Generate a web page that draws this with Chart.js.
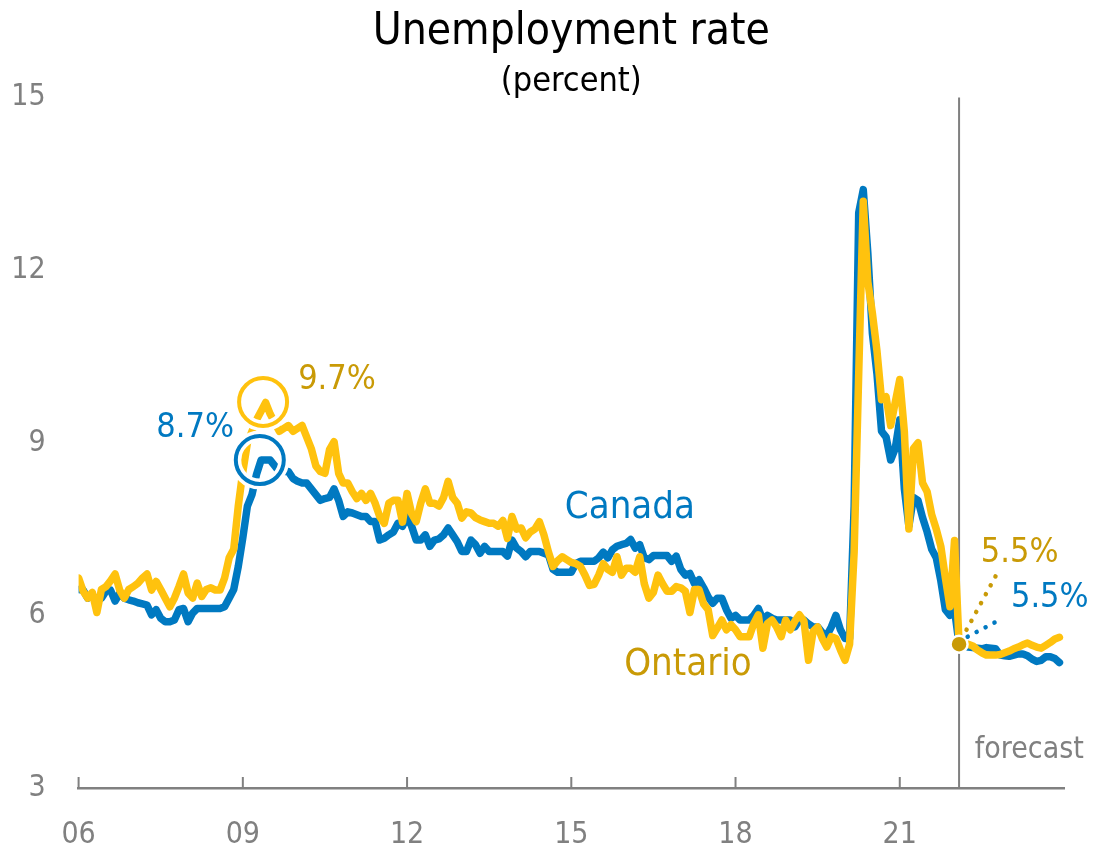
<!DOCTYPE html>
<html>
<head>
<meta charset="utf-8">
<script src="https://cdn.jsdelivr.net/npm/chart.js@4.4.1/dist/chart.umd.min.js"></script>
<style>
  html, body { margin: 0; padding: 0; background: #fff; }
</style>
</head>
<body>
<canvas id="chart" width="1094" height="848"></canvas>
<script>
// monthly data, Jan 2006 .. Feb 2022
const startYear = 2006;
const canada = [
  6.45, 6.44, 6.3, 6.35, 6.27, 6.3, 6.42, 6.44, 6.25, 6.38, 6.3, 6.27,
  6.25, 6.22, 6.2, 6.18, 6.01, 6.1, 5.95, 5.89, 5.89, 5.92, 6.1, 6.12,
  5.89, 6.04, 6.12, 6.12, 6.12, 6.12, 6.12, 6.12, 6.15, 6.3, 6.45, 6.85,
  7.35, 7.9, 8.1, 8.45, 8.7, 8.7, 8.7, 8.6, 8.5, 8.5, 8.5, 8.38,
  8.33, 8.3, 8.3, 8.2, 8.1, 8.0, 8.03, 8.05, 8.2, 8.0, 7.72, 7.8,
  7.78, 7.75, 7.72, 7.72, 7.63, 7.63, 7.31, 7.34, 7.4, 7.45, 7.6, 7.55,
  7.72, 7.55, 7.31, 7.31, 7.4, 7.2, 7.31, 7.33, 7.4, 7.52, 7.4, 7.28,
  7.11, 7.11, 7.31, 7.23, 7.08, 7.2, 7.11, 7.11, 7.11, 7.11, 7.03, 7.31,
  7.17, 7.11, 7.02, 7.11, 7.11, 7.11, 7.08, 7.05, 6.8, 6.75, 6.75, 6.75,
  6.75, 6.9, 6.94, 6.94, 6.94, 6.94, 7.0, 7.1, 7.0, 7.14, 7.2, 7.23,
  7.25, 7.32, 7.17, 7.23, 7.0, 6.97, 7.04, 7.04, 7.04, 7.04, 6.94, 7.03,
  6.8, 6.7, 6.73, 6.55, 6.62, 6.48, 6.32, 6.21, 6.3, 6.3, 6.1, 5.95,
  6.0, 5.92, 5.92, 5.92, 6.0, 6.12, 5.92, 6.0, 5.95, 5.92, 5.92, 5.92,
  5.92, 5.8, 5.92, 5.92, 5.85, 5.8, 5.8, 5.7, 5.65, 5.8, 6.0, 5.75,
  5.6, 5.6, 7.9, 13.0, 13.4, 12.3, 10.9, 10.2, 9.2, 9.1, 8.7, 8.9,
  9.4, 8.2, 7.55, 8.05, 8.0, 7.7, 7.45, 7.15, 7.0, 6.6, 6.1, 6.0,
  6.1, 5.5
];
const ontario = [
  6.65, 6.42, 6.3, 6.4, 6.05, 6.45, 6.5, 6.6, 6.72, 6.44, 6.3, 6.45,
  6.5, 6.56, 6.65, 6.72, 6.44, 6.59, 6.45, 6.3, 6.15, 6.3, 6.5, 6.72,
  6.39, 6.3, 6.56, 6.33, 6.45, 6.48, 6.44, 6.44, 6.65, 7.0, 7.15, 7.9,
  8.5, 9.0, 9.2, 9.4, 9.55, 9.7, 9.5, 9.35, 9.2, 9.25, 9.3, 9.2,
  9.25, 9.3, 9.1, 8.9, 8.6, 8.5, 8.47, 8.88, 9.02, 8.47, 8.3, 8.3,
  8.15, 8.03, 8.12, 8.0, 8.12, 7.95, 7.72, 7.6, 7.95, 8.0, 8.0, 7.62,
  8.12, 7.77, 7.63, 7.95, 8.2, 7.95, 7.95, 7.9, 8.05, 8.33, 8.05, 7.95,
  7.69, 7.8, 7.78, 7.7, 7.66, 7.63, 7.6, 7.6, 7.55, 7.65, 7.34, 7.72,
  7.5, 7.52, 7.35, 7.45, 7.5, 7.63, 7.4, 7.1, 6.85, 6.95, 7.02, 6.97,
  6.92, 6.9, 6.85, 6.7, 6.52, 6.54, 6.7, 6.9, 6.8, 6.75, 7.02, 6.7,
  6.82, 6.82, 6.75, 7.02, 6.55, 6.3, 6.4, 6.7, 6.55, 6.42, 6.42, 6.5,
  6.48, 6.42, 6.05, 6.45, 6.45, 6.2, 6.1, 5.65, 5.78, 5.92, 5.75, 5.84,
  5.75, 5.63, 5.63, 5.63, 5.86, 6.01, 5.43, 5.86, 5.92, 5.8, 5.63, 5.92,
  5.75, 5.9, 6.01, 5.9, 5.22, 5.72, 5.8, 5.6, 5.45, 5.63, 5.6, 5.4,
  5.22, 5.5, 7.1, 10.2, 13.2, 11.8, 11.25, 10.6, 9.75, 9.8, 9.3, 9.7,
  10.1, 9.2, 7.5, 8.9, 9.0, 8.3, 8.15, 7.75, 7.5, 7.2, 6.65, 6.15,
  7.3, 5.5
];
// forecast, Feb 2022 .. Dec 2023
const forecastFirstMonth = 193;
const canadaForecast = [
  5.5, 5.47, 5.45, 5.44, 5.43, 5.42, 5.44, 5.43, 5.42, 5.31, 5.3, 5.29,
  5.31, 5.33, 5.33, 5.3, 5.24, 5.2, 5.22, 5.28, 5.28, 5.25, 5.18
];
const ontarioForecast = [
  5.5, 5.5, 5.5, 5.47, 5.4, 5.35, 5.31, 5.31, 5.31, 5.32, 5.35, 5.38,
  5.42, 5.45, 5.49, 5.52, 5.48, 5.45, 5.43, 5.48, 5.53, 5.59, 5.62
];
const lastActual = 5.5;
const tickYears = [2006, 2009, 2012, 2015, 2018, 2021];

const BLUE = '#0079c1';
const YELLOW = '#ffc20e';
const GOLD = '#c99a06';
const GREY = '#808080';
const FONT = '"Liberation Sans Narrow", "DejaVu Sans Condensed", "Noto Sans", sans-serif';

const toPoints = (vals, first) => vals.map((v, i) => ({ x: startYear + (first + i) / 12, y: v }));
const forecastStart = startYear + forecastFirstMonth / 12;

const decor = {
  id: 'decor',
  beforeDatasetsDraw(chart) {
    const { ctx, chartArea, scales: { x } } = chart;
    ctx.save();
    ctx.strokeStyle = GREY;
    ctx.lineWidth = 2;
    ctx.beginPath();
    const fx = x.getPixelForValue(forecastStart);
    ctx.moveTo(fx, chartArea.top);
    ctx.lineTo(fx, chartArea.bottom);
    tickYears.forEach(yr => {
      const px = x.getPixelForValue(yr);
      ctx.moveTo(px, chartArea.bottom);
      ctx.lineTo(px, chartArea.bottom - 11);
    });
    ctx.stroke();
    ctx.restore();
  },
  afterDatasetsDraw(chart) {
    const { ctx, scales: { x, y } } = chart;
    ctx.save();
    // circles around the 2009 peaks
    [[2009.31, 8.70, BLUE], [2009.37, 9.71, YELLOW]].forEach(([cx, cy, col]) => {
      const px = x.getPixelForValue(cx), py = y.getPixelForValue(cy);
      ctx.beginPath();
      ctx.arc(px, py, 24, 0, Math.PI * 2);
      ctx.strokeStyle = '#fff';
      ctx.lineWidth = 11;
      ctx.stroke();
      ctx.strokeStyle = col;
      ctx.lineWidth = 4;
      ctx.stroke();
    });
    // dotted leaders to the forecast labels
    ctx.lineCap = 'round';
    ctx.lineWidth = 4.5;
    ctx.setLineDash([0.1, 10]);
    [[2022.22, 5.75, 2022.75, 6.68, GOLD], [2022.24, 5.63, 2022.88, 5.95, BLUE]].forEach(([x0, y0, x1, y1, col]) => {
      ctx.strokeStyle = col;
      ctx.beginPath();
      ctx.moveTo(x.getPixelForValue(x0), y.getPixelForValue(y0));
      ctx.lineTo(x.getPixelForValue(x1), y.getPixelForValue(y1));
      ctx.stroke();
    });
    ctx.setLineDash([]);
    // labels
    ctx.textBaseline = 'middle';
    [
      ['8.7%', 2008.13, 9.26, BLUE, 34, 'center'],
      ['9.7%', 2010.72, 10.08, GOLD, 34, 'center'],
      ['Canada', 2016.07, 7.87, BLUE, 38, 'center'],
      ['Ontario', 2017.13, 5.14, GOLD, 38, 'center'],
      ['5.5%', 2023.19, 7.09, GOLD, 34, 'center'],
      ['5.5%', 2023.74, 6.30, BLUE, 34, 'center'],
      ['forecast', 2022.37, 3.65, GREY, 30, 'left']
    ].forEach(([t, tx, ty, col, size, align]) => {
      ctx.font = size + 'px ' + FONT;
      ctx.fillStyle = col;
      ctx.textAlign = align;
      ctx.fillText(t, x.getPixelForValue(tx), y.getPixelForValue(ty));
    });
    ctx.restore();
  }
};

const line = (label, data, color) => ({
  label, data,
  borderColor: color,
  borderWidth: 7.5,
  pointRadius: 0,
  tension: 0,
  borderJoinStyle: 'round',
  borderCapStyle: 'round',
  fill: false
});

new Chart(document.getElementById('chart'), {
  type: 'line',
  data: {
    datasets: [
      {
        label: 'last actual',
        data: [{ x: forecastStart, y: lastActual }],
        showLine: false,
        pointRadius: 8.5,
        pointBackgroundColor: GOLD,
        pointBorderColor: '#fff',
        pointBorderWidth: 2.5
      },
      line('Ontario', toPoints(ontario, 0), YELLOW),
      line('Ontario forecast', toPoints(ontarioForecast, forecastFirstMonth), YELLOW),
      line('Canada', toPoints(canada, 0), BLUE),
      line('Canada forecast', toPoints(canadaForecast, forecastFirstMonth), BLUE)
    ]
  },
  options: {
    responsive: false,
    animation: false,
    layout: { padding: { right: 30, left: 0, bottom: 0 } },
    plugins: {
      legend: { display: false },
      tooltip: { enabled: false },
      title: {
        display: true,
        fullSize: false,
        text: 'Unemployment rate',
        color: '#000',
        font: { family: FONT, size: 44, weight: 'normal', lineHeight: 1 },
        padding: { top: 11, bottom: 0 }
      },
      subtitle: {
        display: true,
        fullSize: false,
        text: '(percent)',
        color: '#000',
        font: { family: FONT, size: 34, weight: 'normal', lineHeight: 0.9 },
        padding: { top: 12, bottom: 0 }
      }
    },
    scales: {
      x: {
        type: 'linear',
        min: 2006,
        max: 2024,
        grid: { display: false, drawTicks: false },
        border: { display: true, color: GREY, width: 2.5 },
        afterBuildTicks: s => { s.ticks = tickYears.map(v => ({ value: v })); },
        afterFit: s => { s.height = 60; },
        ticks: {
          color: GREY,
          padding: 29,
          maxRotation: 0,
          font: { family: FONT, size: 30 },
          callback: v => String(v).slice(2)
        }
      },
      y: {
        min: 3,
        max: 15,
        grid: { display: false, drawTicks: false },
        border: { display: false },
        afterFit: s => { s.width = 78.6; },
        ticks: {
          stepSize: 3,
          color: GREY,
          padding: 33,
          font: { family: FONT, size: 30 }
        }
      }
    }
  },
  plugins: [decor]
});
</script>
</body>
</html>
